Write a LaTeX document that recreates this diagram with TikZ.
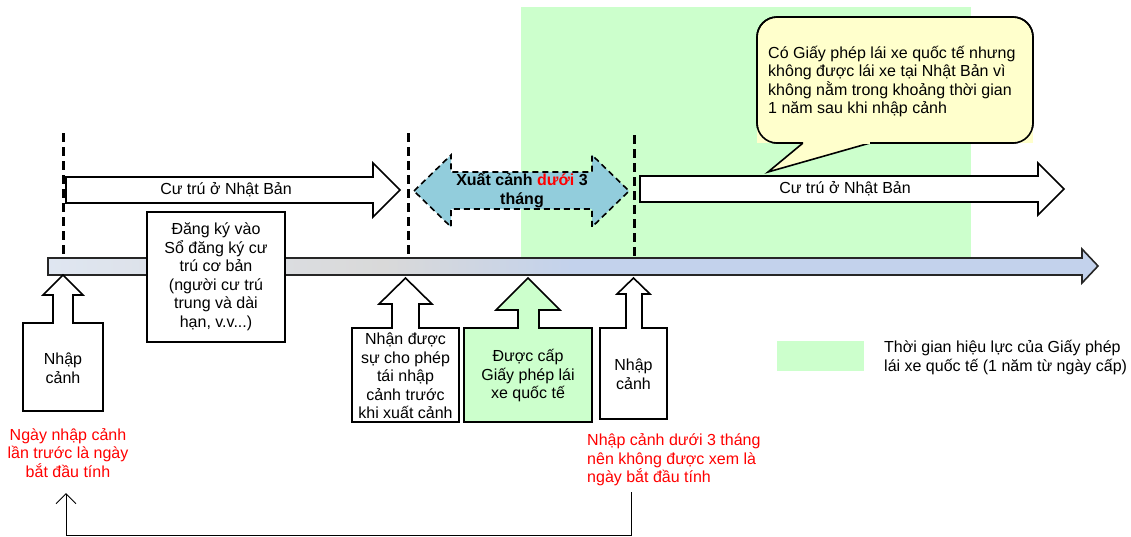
\documentclass[tikz,border=0pt]{standalone}
\usepackage{fontspec}
\setmainfont{Liberation Sans}
\usetikzlibrary{arrows.meta}
\definecolor{lgreen}{HTML}{CCFFCC}
\definecolor{lyellow}{HTML}{FFFFCC}
\definecolor{lblue}{HTML}{92CDDC}
\definecolor{tbA}{HTML}{DFE6F1}
\definecolor{tbB}{HTML}{D9D9D9}
\definecolor{tbC}{HTML}{C3D2EC}
\pgfdeclarehorizontalshading{timebar}{100bp}{color(0bp)=(tbA); color(25bp)=(tbA); color(41bp)=(tbB); color(50bp)=(tbC); color(100bp)=(tbC)}
\newcommand{\fsz}{\fontsize{16}{18.5}\selectfont}
\tikzset{
  txt/.style={font=\fsz, inner sep=0pt, align=center},
  ltxt/.style={font=\fsz, inner sep=0pt, align=left},
  redtxt/.style={txt, text=red},
  shp/.style={draw=black, line width=1.6pt, fill=white},
  vdash/.style={draw=black, line width=3pt, dash pattern=on 9pt off 5pt},
  fb/.style={draw=black, line width=1pt},
}
\begin{document}
\begin{tikzpicture}[x=1pt,y=-1pt]
\useasboundingbox (0,0) rectangle (1131,536);
% green validity region
\fill[lgreen] (521,7) rectangle (971,258);
% legend
\fill[lgreen] (777,341) rectangle (864,371);
\node[ltxt, anchor=west] (legend) at (884,357.5) {Thời gian hiệu lực của Giấy phép\\lái xe quốc tế (1 năm từ ngày cấp)};
% dashed lines
\coordinate (d1t) at (63,133); \coordinate (d1b) at (63,258);
\coordinate (d2t) at (408,133); \coordinate (d2b) at (408,258);
\coordinate (d3t) at (634,135); \coordinate (d3b) at (634,258);
\draw[vdash] (d1t) -- (d1b);
\draw[vdash] (d2t) -- (d2b);
\draw[vdash] (d3t) -- (d3b);
% timeline bar
\draw[line width=1.6pt, draw=black!85, shading=timebar]
 (48,258) -- (1082,258) -- (1082,249) -- (1098,266) -- (1082,283) -- (1082,275) -- (48,275) -- cycle;
% residence arrows
\draw[shp] (66,177) -- (373,177) -- (373,163) -- (400,190) -- (373,217) -- (373,203) -- (66,203) -- cycle;
\node[txt] (res1) at (226,190) {Cư trú ở Nhật Bản};
\draw[shp] (640,176) -- (1038,176) -- (1038,163) -- (1064,189) -- (1038,215) -- (1038,202) -- (640,202) -- cycle;
\node[txt] (res2) at (845,189) {Cư trú ở Nhật Bản};
% departure double arrow
\draw[fill=lblue, draw=black, line width=1.6pt, dash pattern=on 6pt off 4pt]
 (414,191) -- (451,155) -- (451,172) -- (592,172) -- (592,155) -- (629,191) -- (592,227) -- (592,209) -- (451,209) -- (451,227) -- cycle;
\node[txt, font=\fsz\bfseries] (dep) at (522,190.5) {Xuất cảnh \textcolor{red}{dưới} 3\\tháng};
% registration box
\draw[shp] (147,212) rectangle (285,342);
\node[txt] (reg) at (216,277) {Đăng ký vào\\Sổ đăng ký cư\\trú cơ bản\\(người cư trú\\trung và dài\\hạn, v.v...)};
% callout: entry (left)
\draw[shp] (23,323) -- (23,411) -- (103,411) -- (103,323) -- (73,323) -- (73,295) -- (83,295) -- (63,275) -- (43,295) -- (53,295) -- (53,323) -- cycle;
\node[txt] (entry1) at (63,368) {Nhập\\cảnh};
% callout: re-entry permit
\draw[shp] (352,328) -- (352,422) -- (459,422) -- (459,328) -- (419,328) -- (419,304) -- (432,304) -- (405.5,278) -- (379,304) -- (392,304) -- (392,328) -- cycle;
\node[txt] (permit) at (405.5,376) {Nhận được\\sự cho phép\\tái nhập\\cảnh trước\\khi xuất cảnh};
% callout: licence issued
\draw[shp, fill=lgreen] (464,328) -- (464,422) -- (592,422) -- (592,328) -- (539,328) -- (539,310) -- (560,310) -- (528,278) -- (496,310) -- (518,310) -- (518,328) -- cycle;
\node[txt] (lic) at (528,376) {Được cấp\\Giấy phép lái\\xe quốc tế};
% callout: entry (right)
\draw[shp] (600,328) -- (600,419) -- (667,419) -- (667,328) -- (642,328) -- (642,294) -- (650,294) -- (633.5,278) -- (617,294) -- (626,294) -- (626,328) -- cycle;
\node[txt] (entry2) at (633.5,374) {Nhập\\cảnh};
% red notes
\node[redtxt] (note1) at (68,453) {Ngày nhập cảnh\\lần trước là ngày\\bắt đầu tính};
\node[ltxt, text=red, anchor=west] (note2) at (587,460) {Nhập cảnh dưới 3 tháng\\nên không được xem là\\ngày bắt đầu tính};
% feedback connector
\coordinate (fbs) at (631,492);
\coordinate (fbe) at (66,493);
\draw[fb, -{Straight Barb[length=10pt,width=20pt,line width=1pt]}] (fbs) -- (631,535) -- (66,535) -- (fbe);
% speech bubble
\draw[draw=black, line width=1.6pt, fill=lyellow, rounded corners=20pt]
 (870,143) -- (1033,143) -- (1033,17) -- (757,17) -- (757,143) -- (803,143);
\fill[lyellow] (757,128) rectangle (1033,143);
\draw[draw=black, line width=1.6pt, fill=lyellow]
 (870,143) -- (768,172) -- (803,143);
\path[fill=lyellow] (790,141) rectangle (880,144);
\draw[draw=black, line width=1.6pt, rounded corners=20pt]
 (870,143) -- (1033,143) -- (1033,17) -- (757,17) -- (757,143) -- (803,143);
\node[ltxt, anchor=west] (bubble) at (768,81.5) {Có Giấy phép lái xe quốc tế nhưng\\không được lái xe tại Nhật Bản vì\\không nằm trong khoảng thời gian\\1 năm sau khi nhập cảnh};
\end{tikzpicture}
\end{document}
